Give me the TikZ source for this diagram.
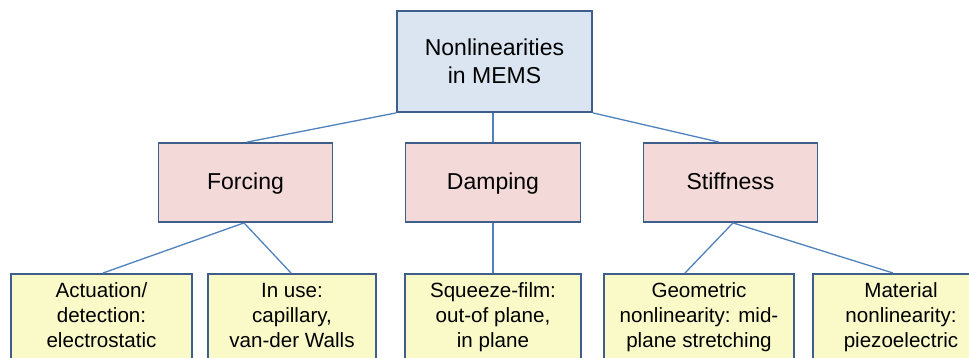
\documentclass[tikz,border=0pt]{standalone}
\usepackage{fontspec}
\setmainfont{Liberation Sans}
\definecolor{boxedge}{HTML}{3E5F8B}
\definecolor{linkblue}{HTML}{4F81BD}
\definecolor{rootfill}{HTML}{DBE5F1}
\definecolor{kindfill}{HTML}{F3D9D8}
\definecolor{leaffill}{HTML}{FAFAC8}
\tikzset{
  box/.style={draw=boxedge,line width=1.8pt,rectangle,align=center,inner sep=0pt},
  rootbox/.style={box,fill=rootfill,minimum width=195pt,minimum height=101pt,font=\fontsize{23}{28}\selectfont},
  kindbox/.style={box,fill=kindfill,minimum height=79pt,text height=20pt,text depth=5pt,font=\fontsize{23}{28}\selectfont},
  leafbox/.style={box,fill=leaffill,anchor=north,inner ysep=9pt,font=\fontsize{20.6}{25}\selectfont,execute at end node=\strut},
  link/.style={draw=linkblue,line width=1.3pt}
}
\begin{document}
\begin{tikzpicture}[x=1pt,y=-1pt]
  \useasboundingbox (0,0) rectangle (969,358);
  \clip (0,0) rectangle (969,358);
  % top level
  \node[rootbox] (root) at (494.5,61.5) {Nonlinearities\\in MEMS};
  % kinds of nonlinearity
  \node[kindbox,minimum width=174pt] (forcing) at (245.5,182.5) {Forcing};
  \node[kindbox,minimum width=175pt] (damping) at (493,182.5) {Damping};
  \node[kindbox,minimum width=174pt] (stiffness) at (730.5,182.5) {Stiffness};
  % sources
  \node[leafbox,minimum width=181pt] (actuation) at (101.5,273) {Actuation/\\detection:\\electrostatic};
  \node[leafbox,minimum width=168pt] (inuse) at (292,273) {In use:\\capillary,\\van-der Walls};
  \node[leafbox,minimum width=176pt] (squeeze) at (493,273) {Squeeze-film:\\out-of plane,\\in plane};
  \node[leafbox,minimum width=190pt] (geometric) at (699,273) {Geometric\\nonlinearity: mid-\\plane stretching};
  \node[leafbox,minimum width=176pt] (material) at (901,273) {Material\\nonlinearity:\\piezoelectric};
  % connectors
  \draw[link] (root.south west) -- ([xshift=1.5pt]forcing.north);
  \draw[link] (damping.north |- root.south) -- (damping.north);
  \draw[link] (root.south east) -- ([xshift=-11.5pt]stiffness.north);
  \draw[link] ([xshift=-1.5pt]forcing.south) -- ([xshift=1.5pt]actuation.north);
  \draw[link] ([xshift=-1.5pt]forcing.south) -- ([xshift=-1pt]inuse.north);
  \draw[link] (damping.south) -- (squeeze.north);
  \draw[link] ([xshift=2.5pt]stiffness.south) -- ([xshift=-14pt]geometric.north);
  \draw[link] ([xshift=2.5pt]stiffness.south) -- ([xshift=-8pt]material.north);
\end{tikzpicture}
\end{document}
